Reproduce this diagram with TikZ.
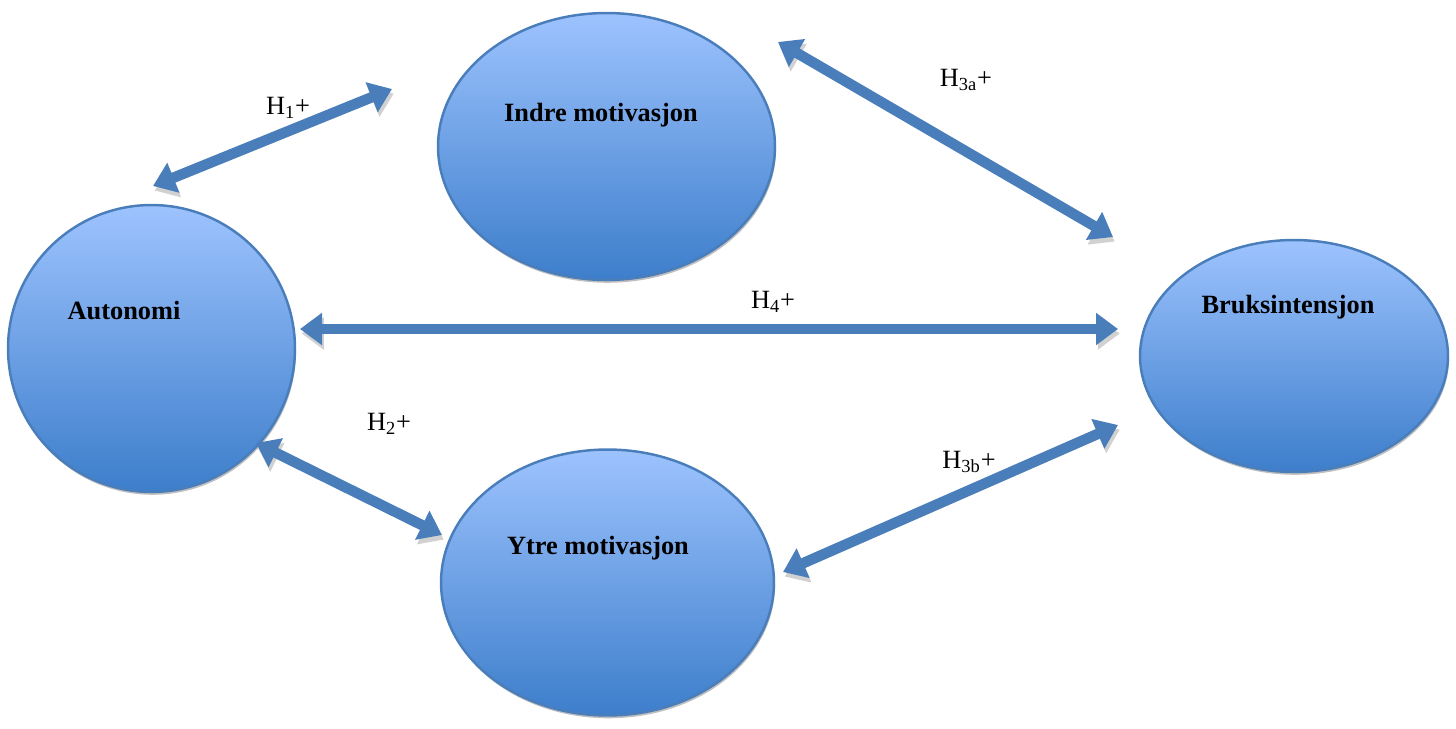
\documentclass[tikz,border=0pt]{standalone}
\usepackage{fontspec}
\setmainfont{Liberation Serif}
\usetikzlibrary{arrows.meta,shadows,shapes.geometric}

\definecolor{arrowblue}{HTML}{4A7EBB}
\definecolor{topblue}{HTML}{9DC3FE}
\definecolor{botblue}{HTML}{3D7ECB}

\tikzset{
  construct/.style={ellipse, draw=arrowblue, line width=1.4pt,
    top color=topblue, bottom color=botblue,
    drop shadow={shadow xshift=0.6pt, shadow yshift=-1.6pt, fill=black!25, opacity=1}},
  hyp/.style={line width=0.21cm, draw=arrowblue,
    {Triangle[width=0.62cm,length=0.44cm]}-{Triangle[width=0.62cm,length=0.44cm]},
    preaction={draw=black!18, transform canvas={xshift=1pt, yshift=-2.6pt}}},
  ctext/.style={font=\fontsize{15}{18}\selectfont\bfseries},
  htext/.style={font=\fontsize{15}{18}\selectfont}
}

\begin{document}
\begin{tikzpicture}[x=0.02cm, y=-0.02cm]
    \useasboundingbox (0,0) rectangle (1456,729);

    \node (auto)  at (151.5, 348.5) [construct, minimum width=5.74cm, minimum height=5.74cm] {};
    \node (indre) at (606.5, 146.5) [construct, minimum width=6.74cm, minimum height=5.34cm] {};
    \node (ytre)  at (607.5, 582.5) [construct, minimum width=6.66cm, minimum height=5.32cm] {};
    \node (bruk)  at (1294, 356)    [construct, minimum width=6.16cm, minimum height=4.64cm] {};

    \node (tauto)  at (124, 311) [ctext] {Autonomi};
    \node (tindre) at (601, 115) [ctext] {Indre motivasjon};
    \node (tytre)  at (598, 548) [ctext] {Ytre motivasjon};
    \node (tbruk)  at (1288, 307) [ctext] {Bruksintensjon};

    % arrow ends
    \coordinate (h1a) at (153, 186);   \coordinate (h1b) at (392, 89);
    \coordinate (h3aa) at (778, 42);   \coordinate (h3ab) at (1113, 237);
    \coordinate (h4a) at (300, 329);   \coordinate (h4b) at (1118, 329);
    \coordinate (h2a) at (256, 443);   \coordinate (h2b) at (442, 535);
    \coordinate (h3ba) at (783, 572);  \coordinate (h3bb) at (1118, 425);

    \draw [hyp] (h1a) -- (h1b);
    \draw [hyp] (h3aa) -- (h3ab);
    \draw [hyp] (h4a) -- (h4b);
    \draw [hyp] (h2a) -- (h2b);
    \draw [hyp] (h3ba) -- (h3bb);

    \node (l1)  at (288, 108) [htext] {H\textsubscript{1}+};
    \node (l3a) at (966, 80)  [htext] {H\textsubscript{3a}+};
    \node (l4)  at (773, 302) [htext] {H\textsubscript{4}+};
    \node (l2)  at (389, 424) [htext] {H\textsubscript{2}+};
    \node (l3b) at (969, 462) [htext] {H\textsubscript{3b}+};
\end{tikzpicture}
\end{document}
